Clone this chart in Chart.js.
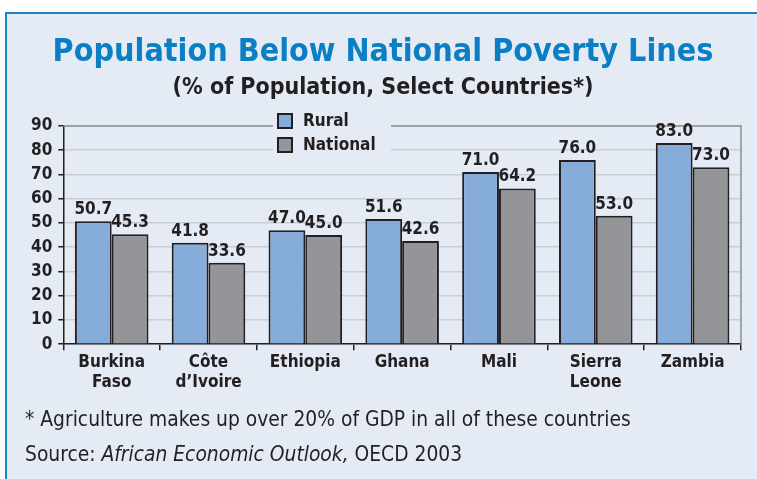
<!DOCTYPE html>
<html>
<head>
<meta charset="utf-8">
<script src="https://cdn.jsdelivr.net/npm/chart.js@4/dist/chart.umd.min.js"></script>
<style>
  body { margin: 0; background: #fff; width: 757px; height: 479px; overflow: hidden; position: relative; }
  .frame { position: absolute; left: 5px; top: 12px; width: 800px; height: 500px;
           border: 2px solid #1b84c6; background: #e4ebf5; }
  #wrap { position: absolute; left: 0; top: 0; width: 757px; height: 479px; }
  .note { position: absolute; left: 25px; font-family: "Liberation Sans Narrow", "DejaVu Sans Condensed", sans-serif;
          font-size: 20.8px; color: #231f20; white-space: nowrap; }
</style>
</head>
<body>
<div class="frame"></div>
<div id="wrap"><canvas id="chart"></canvas></div>
<div class="note" style="top:407px">* Agriculture makes up over 20% of GDP in all of these countries</div>
<div class="note" style="top:442px">Source: <i>African Economic Outlook,</i> OECD 2003</div>
<script>
const countries = [["Burkina", "Faso"], ["Côte", "d’Ivoire"], "Ethiopia", "Ghana", "Mali", ["Sierra", "Leone"], "Zambia"];
const rural = [50.7, 41.8, 47.0, 51.6, 71.0, 76.0, 83.0];
const national = [45.3, 33.6, 45.0, 42.6, 64.2, 53.0, 73.0];
const seriesNames = ["Rural", "National"];

const FONT = '"Liberation Sans Narrow", "DejaVu Sans Condensed", sans-serif';
const INK = '#231f20';
const BG = '#e4ebf5';

// value labels above each bar
const valueLabels = {
    id: 'valueLabels',
    afterDatasetsDraw(chart) {
        const ctx = chart.ctx;
        ctx.save();
        ctx.font = 'bold 17px ' + FONT;
        ctx.fillStyle = INK;
        ctx.textAlign = 'center';
        ctx.textBaseline = 'bottom';
        chart.data.datasets.forEach((ds, i) => {
            chart.getDatasetMeta(i).data.forEach((bar, j) => {
                ctx.fillText(ds.data[j].toFixed(1), bar.x, bar.y - 3);
            });
        });
        ctx.restore();
    }
};

// top/right frame of the plot and the legend box
const frameAndLegend = {
    id: 'frameAndLegend',
    beforeDatasetsDraw(chart) {
        const a = chart.chartArea, ctx = chart.ctx;
        ctx.save();
        ctx.strokeStyle = '#8e8e8e';
        ctx.lineWidth = 1.5;
        ctx.beginPath();
        ctx.moveTo(a.left, a.top);
        ctx.lineTo(a.right, a.top);
        ctx.lineTo(a.right, a.bottom);
        ctx.stroke();
        ctx.restore();
    },
    afterDraw(chart) {
        const ctx = chart.ctx;
        const x = 273, y = 111;
        ctx.save();
        ctx.fillStyle = BG;
        ctx.fillRect(x, y, 118, 48);
        chart.data.datasets.forEach((ds, i) => {
            const yy = y + 3 + i * 24;
            ctx.fillStyle = ds.backgroundColor;
            ctx.fillRect(x + 5, yy, 14, 14);
            ctx.strokeStyle = INK;
            ctx.lineWidth = 2;
            ctx.strokeRect(x + 5, yy, 14, 14);
            ctx.fillStyle = INK;
            ctx.font = 'bold 17px ' + FONT;
            ctx.textBaseline = 'middle';
            ctx.textAlign = 'left';
            ctx.fillText(ds.label, x + 30, yy + 8);
        });
        ctx.restore();
    }
};

new Chart(document.getElementById('chart'), {
    type: 'bar',
    data: {
        labels: countries,
        datasets: [
            { label: seriesNames[0], data: rural, backgroundColor: '#86acd9', borderColor: INK, borderWidth: 2 },
            { label: seriesNames[1], data: national, backgroundColor: '#939598', borderColor: INK, borderWidth: 2 }
        ]
    },
    options: {
        responsive: true,
        maintainAspectRatio: false,
        animation: false,
        categoryPercentage: 0.76,
        barPercentage: 1,
        layout: { padding: { left: 25, right: 16, top: 33, bottom: 84 } },
        plugins: {
            legend: { display: false },
            tooltip: { enabled: false },
            title: {
                display: true,
                text: 'Population Below National Poverty Lines',
                color: '#0a7fc4',
                font: { family: FONT, size: 32, weight: 'bold' },
                padding: { top: 0, bottom: 3 }
            },
            subtitle: {
                display: true,
                text: '(% of Population, Select Countries*)',
                color: INK,
                font: { family: FONT, size: 23, weight: 'bold' },
                padding: { top: 0, bottom: 24 }
            }
        },
        scales: {
            x: {
                grid: { drawOnChartArea: false, color: INK, tickLength: 6, lineWidth: 1.5 },
                border: { color: INK, width: 1.5 },
                ticks: { color: INK, font: { family: FONT, size: 17, weight: 'bold' }, padding: 2, maxRotation: 0, autoSkip: false }
            },
            y: {
                min: 0, max: 90,
                ticks: { stepSize: 10, color: INK, font: { family: FONT, size: 17, weight: 'bold' }, padding: 6 },
                grid: { color: '#c9ced6', lineWidth: 1.5, tickColor: INK, tickLength: 5 },
                border: { color: INK, width: 1.5 }
            }
        }
    },
    plugins: [valueLabels, frameAndLegend]
});
</script>
</body>
</html>
